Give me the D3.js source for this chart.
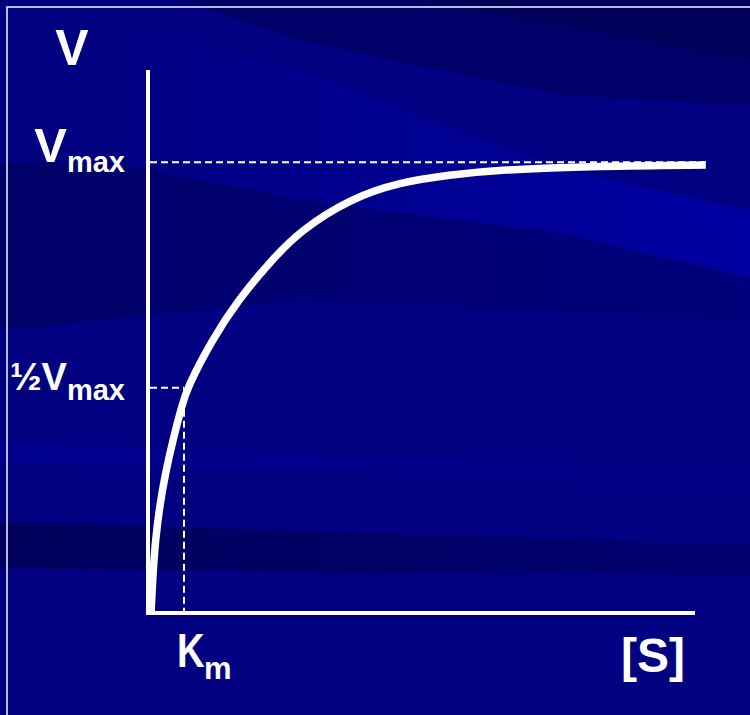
<!DOCTYPE html>
<head>
  <meta charset="utf-8">
  <script src="https://d3js.org/d3.v7.min.js"></script>
  <style>
    body { margin: 0; background: #000080; }
    svg { display: block; }
    .lbl {
        font-family: "Liberation Sans", Arial, sans-serif;
        font-weight: bold;
        fill: #fff;
    }
    .axis-line {
        stroke: #fff;
        stroke-width: 4;
    }
    .guide {
        stroke: #fff;
        stroke-width: 2;
        stroke-dasharray: 7,4;
        fill: none;
    }
    .curve {
        fill: none;
        stroke: #fff;
        stroke-width: 7.5;
        stroke-linecap: butt;
    }
  </style>
</head>
<body>
<div id="chart"></div>
<script>
// substrate concentration, in units of Km
var sValues = [0.083, 0.139, 0.208, 0.319, 0.486, 0.694, 0.931, 1.083, 1.778, 2.528, 3.389,
               4.222, 5.611, 7.0, 8.389, 9.694, 12.556, 15.5];
// velocity, as fraction of Vmax
var vValues = [0, 0.089, 0.162, 0.235, 0.311, 0.384, 0.457, 0.499, 0.606, 0.697, 0.779,
               0.848, 0.919, 0.956, 0.972, 0.983, 0.992, 0.994];

var km = 1, vmax = 1;
var xMax = 15.2, yMax = 1.205;

var width = 750, height = 715;

var svg = d3.select("#chart").append("svg")
    .attr("width", width)
    .attr("height", height);

var defs = svg.append("defs");

function grad(id, stops) {
  var g = defs.append("linearGradient").attr("id", id)
      .attr("x1", "0%").attr("x2", "100%").attr("y1", "0%").attr("y2", "0%");
  stops.forEach(function(s) {
    g.append("stop").attr("offset", s[0]).attr("stop-color", s[1]).attr("stop-opacity", s[2]);
  });
}
grad("lightBand", [["0%", "#0000a8", 0.0], ["40%", "#0000a8", 0.35], ["100%", "#0000a8", 0.85]]);
grad("darkBand", [["0%", "#000050", 0.75], ["100%", "#000050", 0.35]]);
grad("paleBand", [["0%", "#0000a0", 0.45], ["100%", "#0000a0", 0.1]]);
grad("underBand", [["0%", "#000058", 0.6], ["60%", "#000058", 0.3], ["100%", "#000058", 0.1]]);

// background streaks
svg.append("rect").attr("width", width).attr("height", height).attr("fill", "#000080");
svg.append("polygon").attr("points", "180,0 750,0 750,105 560,95 300,40").attr("fill", "#000060").attr("opacity", 0.75);
svg.append("polygon").attr("points", "420,0 750,0 750,60").attr("fill", "#000050").attr("opacity", 0.6);
svg.append("polygon").attr("points", "100,20 300,70 560,169 750,210 750,278 560,233 300,200 100,160")
    .attr("fill", "url(#lightBand)");
svg.append("polygon").attr("points", "0,165 100,160 300,200 560,233 750,278 750,320 300,300 0,330")
    .attr("fill", "url(#underBand)");
svg.append("polygon").attr("points", "0,443 750,468 750,488 0,462").attr("fill", "url(#paleBand)");
svg.append("polygon").attr("points", "0,522 750,545 750,575 0,568").attr("fill", "url(#darkBand)");

// frame
svg.append("rect")
    .attr("x", 7).attr("y", 7)
    .attr("width", 800).attr("height", 800)
    .attr("fill", "none")
    .attr("stroke", "#e8e8ff")
    .attr("stroke-width", 1.6);

var x = d3.scaleLinear().domain([0, xMax]).range([148, 695]);
var y = d3.scaleLinear().domain([0, 1]).range([613, 162.3]);

// axes
svg.append("line").attr("class", "axis-line")
    .attr("x1", x(0)).attr("x2", x(0))
    .attr("y1", y(yMax)).attr("y2", y(0) + 2);
svg.append("line").attr("class", "axis-line")
    .attr("x1", x(0) - 2).attr("x2", x(xMax))
    .attr("y1", y(0)).attr("y2", y(0));

// guides
var sEnd = sValues[sValues.length - 1];
svg.append("line").attr("class", "guide")
    .attr("x1", x(0) + 2).attr("x2", x(sEnd))
    .attr("y1", y(vmax)).attr("y2", y(vmax));
svg.append("line").attr("class", "guide")
    .attr("x1", x(0) + 2).attr("x2", x(km))
    .attr("y1", y(vmax / 2)).attr("y2", y(vmax / 2));
svg.append("line").attr("class", "guide")
    .attr("x1", x(km)).attr("x2", x(km))
    .attr("y1", y(vmax / 2)).attr("y2", y(0) - 2);

// curve
var pts = sValues.map(function(s, i) { return [s, vValues[i]]; });
var line = d3.line()
    .x(function(d) { return x(d[0]); })
    .y(function(d) { return y(d[1]); })
    .curve(d3.curveBasis);
svg.append("path").datum(pts).attr("class", "curve").attr("d", line);

// labels
svg.append("text").attr("class", "lbl")
    .attr("x", 72).attr("y", 65)
    .attr("text-anchor", "middle")
    .style("font-size", "50px")
    .text("V");

var t1 = svg.append("text").attr("class", "lbl")
    .attr("x", 125).attr("y", y(vmax))
    .attr("text-anchor", "end");
t1.append("tspan").style("font-size", "49px").text("V");
t1.append("tspan").style("font-size", "29px").attr("dy", 10).text("max");

var t2 = svg.append("text").attr("class", "lbl")
    .attr("x", 125).attr("y", y(vmax / 2) + 2)
    .attr("text-anchor", "end");
t2.append("tspan").style("font-size", "38px").text("\u00bdV");
t2.append("tspan").style("font-size", "29px").attr("dy", 10).text("max");

var k = svg.append("g").attr("transform", "translate(177,667)");
k.append("text").attr("class", "lbl")
    .attr("transform", "scale(0.78,1)")
    .style("font-size", "49px")
    .text("K");
k.append("text").attr("class", "lbl")
    .attr("x", 27).attr("y", 12)
    .style("font-size", "31px")
    .text("m");

svg.append("text").attr("class", "lbl")
    .attr("x", 653).attr("y", 672)
    .attr("text-anchor", "middle")
    .style("font-size", "48px")
    .text("[S]");
</script>
</body>
